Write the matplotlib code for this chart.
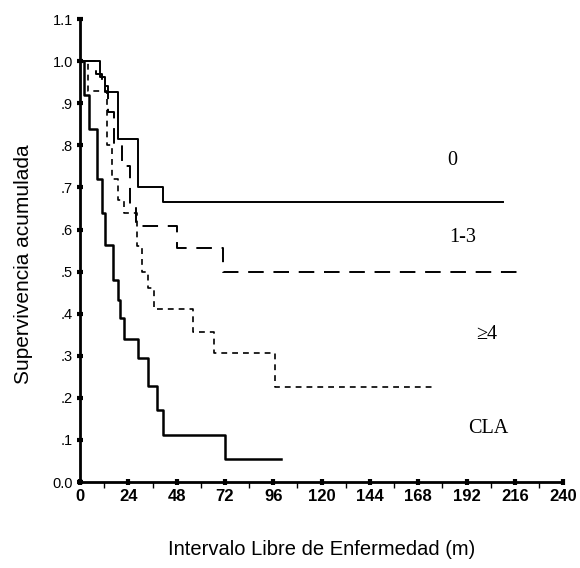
import matplotlib
matplotlib.use("Agg")
import matplotlib.pyplot as plt
from matplotlib.ticker import MultipleLocator

# Kaplan-Meier step curves (time in months, survival after each step)
t_0 = [0, 10, 12.5, 19, 29, 41, 210]
s_0 = [1.0, 0.963, 0.926, 0.815, 0.70, 0.665, 0.665]

t_13 = [0, 8, 11, 14, 17, 21, 25, 28, 48, 71, 219]
s_13 = [1.0, 0.97, 0.94, 0.88, 0.80, 0.75, 0.66, 0.608, 0.556, 0.50, 0.50]

t_4 = [0, 4, 13.5, 16, 19, 22, 28.5, 31, 34, 36.5, 56, 66.5, 97, 176]
s_4 = [1.0, 0.93, 0.80, 0.72, 0.67, 0.64, 0.56, 0.50, 0.46, 0.41, 0.356, 0.306, 0.226, 0.226]

t_cla = [0, 2, 4.5, 8.5, 11, 12.5, 16.5, 19, 20, 22, 29, 34, 38, 41, 72, 100]
s_cla = [1.0, 0.92, 0.84, 0.72, 0.64, 0.563, 0.48, 0.432, 0.39, 0.34, 0.295, 0.228, 0.17, 0.112, 0.055, 0.055]

labels = ["0", "1-3", "\u22654", "CLA"]
label_pos = [(185, 0.765), (190, 0.58), (202, 0.35), (203, 0.128)]

xticks = list(range(0, 241, 24))
yticks = [0.0, 0.1, 0.2, 0.3, 0.4, 0.5, 0.6, 0.7, 0.8, 0.9, 1.0, 1.1]
yticklabels = ["0.0", ".1", ".2", ".3", ".4", ".5", ".6", ".7", ".8", ".9", "1.0", "1.1"]

fig = plt.figure(figsize=(5.8, 5.68), dpi=100)
ax = fig.add_axes([0.138, 0.1514, 0.833, 0.815])

ax.step(t_0, s_0, where="post", color="black", lw=1.4)
ax.step(t_13, s_13, where="post", color="black", lw=1.4, dashes=(8, 5))
ax.step(t_4, s_4, where="post", color="black", lw=1.2, dashes=(3.5, 3))
ax.step(t_cla, s_cla, where="post", color="black", lw=1.8)

for lab, (x, y) in zip(labels, label_pos):
    ax.text(x, y, lab, family="Liberation Serif", fontsize=14.5,
            ha="center", va="center")

ax.set_xlim(0, 240)
ax.set_ylim(0, 1.1)
ax.set_xticks(xticks)
ax.xaxis.set_minor_locator(MultipleLocator(12))
ax.set_yticks(yticks)
ax.set_yticklabels(yticklabels)

for side in ["top", "right"]:
    ax.spines[side].set_visible(False)
for side in ["left", "bottom"]:
    ax.spines[side].set_linewidth(2)

ax.tick_params(axis="both", which="major", direction="inout", length=4, width=3, pad=3)
ax.tick_params(axis="x", which="minor", direction="out", length=4, width=1)
for lab in ax.get_xticklabels():
    lab.set_family("Liberation Sans")
    lab.set_fontsize(12)
    lab.set_fontweight("bold")
for lab in ax.get_yticklabels():
    lab.set_family("Liberation Sans")
    lab.set_fontsize(10.5)

ax.set_ylabel("Supervivencia acumulada", family="Liberation Sans", fontsize=15)
ax.set_xlabel("Intervalo Libre de Enfermedad (m)", family="Liberation Sans", fontsize=14.5)
ax.yaxis.set_label_coords(-0.097, 0.47)
ax.xaxis.set_label_coords(0.5, -0.125)

plt.savefig("out.png", dpi=100)
